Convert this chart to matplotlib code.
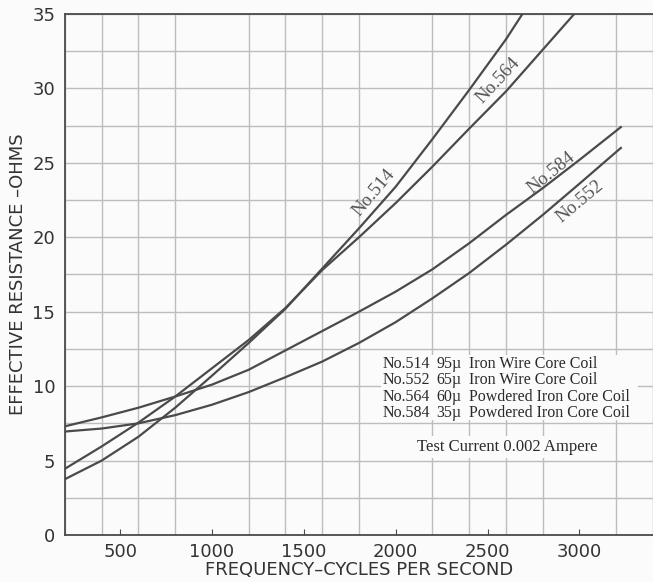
import matplotlib
matplotlib.use('Agg')
import matplotlib.pyplot as plt
from matplotlib.ticker import MultipleLocator
from matplotlib.patches import Rectangle

# values (frequency in c/s, resistance in ohms)
freq_514 = [200, 400, 600, 800, 1000, 1200, 1400, 1600, 1800, 2000, 2200, 2400, 2600, 2700]
res_514 = [3.75, 5.0, 6.6, 8.55, 10.7, 12.9, 15.2, 17.9, 20.6, 23.4, 26.6, 29.9, 33.3, 35.2]
freq_564 = [200, 400, 600, 800, 1000, 1200, 1400, 1600, 1800, 2000, 2200, 2400, 2600, 2800, 3000]
res_564 = [4.45, 5.95, 7.55, 9.3, 11.2, 13.1, 15.25, 17.8, 20.0, 22.3, 24.75, 27.3, 29.8, 32.6, 35.4]
freq_584 = [200, 400, 600, 800, 1000, 1200, 1400, 1600, 1800, 2000, 2200, 2400, 2600, 2800, 3000, 3225]
res_584 = [7.3, 7.9, 8.55, 9.3, 10.1, 11.1, 12.4, 13.7, 15.0, 16.35, 17.85, 19.6, 21.5, 23.3, 25.2, 27.4]
freq_552 = [200, 400, 600, 800, 1000, 1200, 1400, 1600, 1800, 2000, 2200, 2400, 2600, 2800, 3000, 3225]
res_552 = [6.95, 7.15, 7.5, 8.05, 8.75, 9.6, 10.6, 11.65, 12.9, 14.3, 15.9, 17.6, 19.5, 21.5, 23.6, 26.0]

coil_no = ['No.514', 'No.552', 'No.564', 'No.584']
coil_mu = ['95\u00b5', '65\u00b5', '60\u00b5', '35\u00b5']
coil_desc = ['Iron Wire Core Coil', 'Iron Wire Core Coil',
             'Powdered Iron Core Coil', 'Powdered Iron Core Coil']

sans = ['Liberation Sans Narrow', 'DejaVu Sans']
serif = ['Liberation Serif', 'DejaVu Serif']
ink = '#4a4a4a'
bg = '#fbfbfb'

fig = plt.figure(figsize=(6.53, 5.82), dpi=100)
fig.patch.set_facecolor(bg)
ax = fig.add_axes([0.0995, 0.0808, 0.9005, 0.8952])
ax.set_facecolor(bg)

for f, r in [(freq_514, res_514), (freq_564, res_564), (freq_584, res_584), (freq_552, res_552)]:
    ax.plot(f, r, color=ink, lw=1.6, zorder=3)

ax.set_xlim(200, 3400)
ax.set_ylim(0, 35)
ax.xaxis.set_major_locator(MultipleLocator(500))
ax.xaxis.set_minor_locator(MultipleLocator(200))
ax.yaxis.set_major_locator(MultipleLocator(5))
ax.yaxis.set_minor_locator(MultipleLocator(2.5))
ax.grid(which='minor', axis='x', color='#bdbdbd', lw=1.0)
ax.grid(which='both', axis='y', color='#bdbdbd', lw=1.0)
ax.set_axisbelow(True)
ax.tick_params(axis='x', which='major', direction='in', length=4, color=ink,
               labelsize=13, labelcolor='#333333', pad=6)
ax.tick_params(axis='x', which='minor', length=0)
ax.tick_params(axis='y', which='both', length=0, labelsize=13, labelcolor='#333333', pad=7)
for lab in ax.get_xticklabels() + ax.get_yticklabels():
    lab.set_family(sans)
for s in ['left', 'bottom', 'top']:
    ax.spines[s].set_color(ink)
    ax.spines[s].set_linewidth(1.3)
ax.spines['right'].set_color('#bdbdbd')

ax.set_xlabel('FREQUENCY\u2013CYCLES PER SECOND', family=sans, fontsize=13,
              color='#333333', labelpad=0)
ax.set_ylabel('EFFECTIVE RESISTANCE \u2013OHMS', family=sans, fontsize=13,
              color='#333333', labelpad=4)

# curve labels
lab_kw = dict(family=serif, fontsize=13.5, color='#555555', ha='center', va='center',
              rotation_mode='anchor', zorder=4)
ax.text(1880, 23.0, 'No.514', rotation=50, **lab_kw)
ax.text(2560, 30.5, 'No.564', rotation=47, **lab_kw)
ax.text(2845, 24.3, 'No.584', rotation=39, **lab_kw)
ax.text(3000, 22.4, 'No.552', rotation=40, **lab_kw)

# key box
ax.add_patch(Rectangle((1920, 7.7), 1400, 4.4, facecolor=bg, edgecolor='none', zorder=2))
rows_y = [11.49, 10.41, 9.3, 8.22]
key_kw = dict(family=serif, fontsize=11.5, color='#2a2a2a', va='center', zorder=4)
for y, n, m, d in zip(rows_y, coil_no, coil_mu, coil_desc):
    ax.text(1929, y, n, **key_kw)
    ax.text(2220, y, m, **key_kw)
    ax.text(2398, y, d, **key_kw)
ax.text(2606, 5.91, 'Test Current 0.002 Ampere', ha='center', family=serif, fontsize=12,
        color='#2a2a2a', va='center', zorder=4,
        bbox=dict(facecolor=bg, edgecolor='none', pad=2))

plt.savefig('out.png', dpi=100, facecolor=fig.get_facecolor())
